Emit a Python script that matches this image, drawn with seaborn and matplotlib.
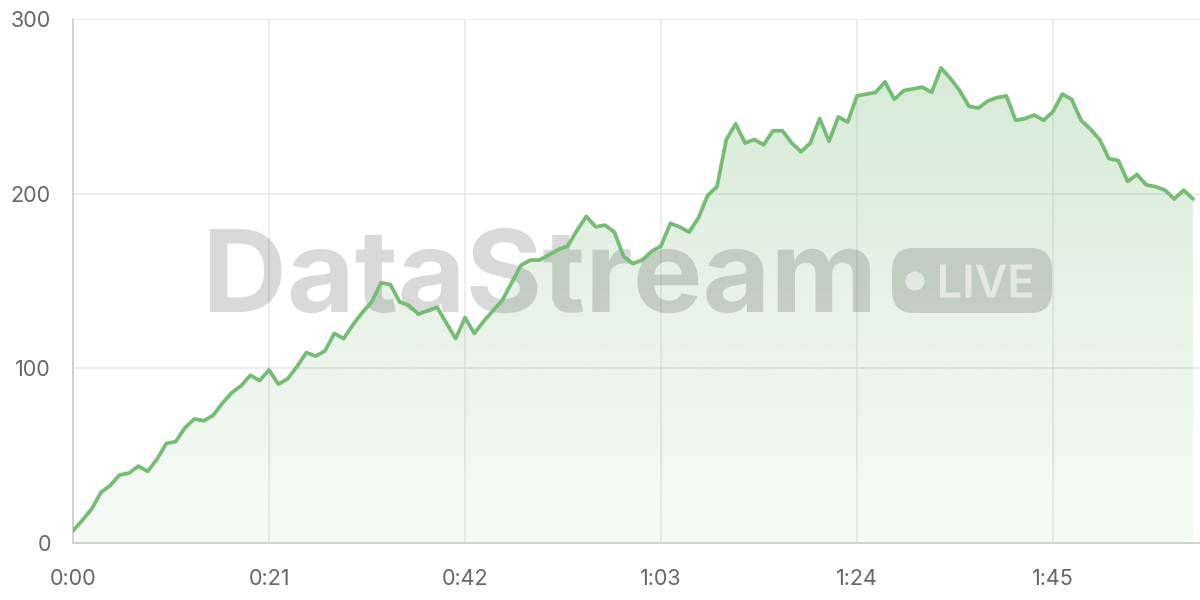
import numpy as np
import pandas as pd
import matplotlib
matplotlib.use("Agg")
import matplotlib.pyplot as plt
import seaborn as sns
from matplotlib.textpath import TextPath
from matplotlib.font_manager import FontProperties
from matplotlib.patches import PathPatch, FancyBboxPatch, Circle
from matplotlib.path import Path
from matplotlib.transforms import IdentityTransform

# ---- data ----
seconds = list(range(0, 121))
values = [7, 13, 19.5, 29, 33, 39, 40, 44, 41, 48,
          57, 58, 66, 71, 70, 73, 80, 86, 90, 96,
          93, 99, 91, 94, 101, 109, 107, 110, 120, 117,
          125, 132, 138, 149, 148, 138, 136, 131, 133, 135,
          126, 117, 129, 120, 127, 133, 139, 149, 159, 162,
          162, 165, 168, 170, 179, 187, 181, 182, 178, 164,
          160, 162, 167, 170, 183, 181, 178, 186, 199, 204,
          231, 240, 229, 231, 228, 236, 236, 229, 224, 229,
          243, 230, 244, 241, 256, 257, 258, 264, 254, 259,
          260, 261, 258, 272, 266, 259, 250, 249, 253, 255,
          256, 242, 243, 245, 242, 247, 257, 254, 242, 237,
          231, 220, 219, 207, 211, 205, 204, 202, 197, 202, 197]
x_ticks = [0, 21, 42, 63, 84, 105]
x_tick_labels = ["0:00", "0:21", "0:42", "1:03", "1:24", "1:45"]
y_ticks = [0, 100, 200, 300]
y_tick_labels = ["0", "100", "200", "300"]
watermark = "DataStream"
badge = "LIVE"

df = pd.DataFrame({"t": seconds, "v": values})

sns.set_style("white")
plt.rcParams["font.family"] = ["Inter", "DejaVu Sans"]

W, H = 1200, 600
fig = plt.figure(figsize=(12, 6), dpi=100)
ax = fig.add_axes([73 / W, 57 / H, 1127 / W, 524 / H])

LINE = "#76bb76"
XMAX = 120.75

# gradient fill under line
poly = ax.fill_between(df["t"], df["v"], 0, color="none", lw=0, zorder=1)
ny = 300
alpha = np.linspace(0.06, 0.32, ny)
rgb = np.array(matplotlib.colors.to_rgb(LINE))
grad = np.zeros((ny, 2, 4))
grad[:, :, :3] = rgb
grad[:, :, 3] = alpha[:, None]
im = ax.imshow(grad, extent=[0, XMAX, 0, 300], origin="lower", aspect="auto",
               zorder=1, interpolation="bilinear")
clip = Path.make_compound_path(*poly.get_paths())
im.set_clip_path(clip, ax.transData)

sns.lineplot(data=df, x="t", y="v", ax=ax, color=LINE, linewidth=2.7, zorder=4)

ax.set_xlim(0, XMAX)
ax.set_ylim(0, 300)
ax.set_xticks(x_ticks)
ax.set_xticklabels(x_tick_labels)
ax.set_yticks(y_ticks)
ax.set_yticklabels(y_tick_labels)
ax.set_xlabel("")
ax.set_ylabel("")
ax.grid(True, color="#e9e9e9", linewidth=1.2, zorder=0)
ax.set_axisbelow(True)
for s in ["top", "right"]:
    ax.spines[s].set_visible(False)
ax.spines["left"].set_color("#cfcfcf")
ax.spines["bottom"].set_color("#cfcfcf")
ax.spines["left"].set_linewidth(1.3)
ax.spines["bottom"].set_linewidth(1.3)
ax.tick_params(axis="y", length=11, width=1.2, color="#e9e9e9", pad=5,
               labelsize=15.5, labelcolor="#666666")
ax.tick_params(axis="x", length=9, width=1.2, color="#e9e9e9", pad=10,
               labelsize=15.5, labelcolor="#666666")

# ---- watermark (pixel coords, top-down y) ----
def fitted_text(s, x0, x1, baseline, cap, weight="bold", family="Inter"):
    fp = FontProperties(family=family, weight=weight)
    tp = TextPath((0, 0), s, size=100, prop=fp)
    capref = TextPath((0, 0), "H", size=100, prop=fp).get_extents()
    ext = tp.get_extents()
    sx = (x1 - x0) / ext.width
    sy = cap / capref.y1
    v = tp.vertices.copy()
    v[:, 0] = x0 + (v[:, 0] - ext.x0) * sx
    v[:, 1] = (H - baseline) + v[:, 1] * sy
    return Path(v, tp.codes)

idt = IdentityTransform()
wm_path = fitted_text(watermark, 210, 870, 312, 83)
ax.add_patch(PathPatch(wm_path, facecolor=(0, 0, 0, 0.15), edgecolor="none",
                       transform=idt, zorder=3, clip_on=False))
pill = FancyBboxPatch((892, H - 313), 160, 65,
                      boxstyle="round,pad=0,rounding_size=22",
                      facecolor=(0, 0, 0, 0.15), edgecolor="none",
                      transform=idt, zorder=3, clip_on=False)
ax.add_patch(pill)
ax.add_patch(Circle((915, H - 281), 9.5, facecolor=(1, 1, 1, 0.55),
                    edgecolor="none", transform=idt, zorder=3, clip_on=False))
live_path = fitted_text(badge, 940, 1032, 297.5, 33, weight="semibold")
ax.add_patch(PathPatch(live_path, facecolor=(1, 1, 1, 0.55), edgecolor="none",
                       transform=idt, zorder=3, clip_on=False))

fig.savefig("out.png", dpi=100)
